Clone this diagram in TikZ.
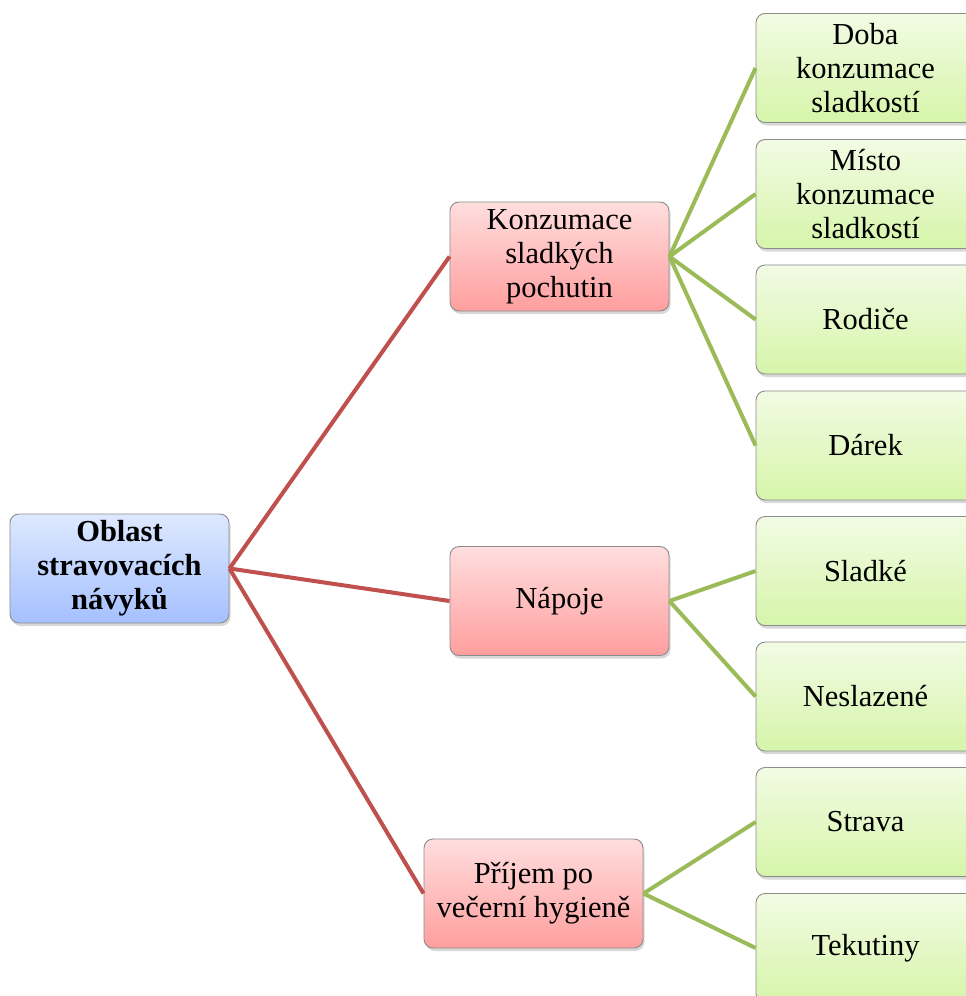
\documentclass[tikz,border=0pt]{standalone}
\usepackage{fontspec}
\setmainfont{Liberation Serif}
\usetikzlibrary{shadows}
\definecolor{redln}{HTML}{C0504D}
\definecolor{grnln}{HTML}{9BBB59}
\begin{document}
\begin{tikzpicture}[x=1pt,y=-1pt,
  box/.style={rectangle, rounded corners=9pt, draw=black!45, line width=0.9pt,
    minimum width=219pt, minimum height=109pt, align=center, inner sep=2pt,
    font=\fontsize{30.5}{34}\selectfont,
    drop shadow={shadow xshift=1.5pt, shadow yshift=-3pt, opacity=0.3}},
  rootbox/.style={box, top color={rgb,255:red,222;green,233;blue,255}, bottom color={rgb,255:red,165;green,192;blue,255}},
  pinkbox/.style={box, top color={rgb,255:red,255;green,222;blue,222}, bottom color={rgb,255:red,255;green,158;blue,158}},
  greenbox/.style={box, top color={rgb,255:red,242;green,251;blue,228}, bottom color={rgb,255:red,214;green,245;blue,170}},
  rededge/.style={draw=redln, line width=4pt},
  grnedge/.style={draw=grnln, line width=4pt}
]
\fill[white] (0,0) rectangle (966,996);
\clip (0,0) rectangle (966,996);

\node[rootbox, font=\fontsize{30.5}{34}\selectfont\bfseries] (root) at (119.5,568.5) {Oblast\\stravovacích\\návyků};

\node[pinkbox] (k) at (559.5,256.5) {Konzumace\\sladkých\\pochutin};
\node[pinkbox] (n) at (559.5,601) {Nápoje};
\node[pinkbox] (p) at (533.5,893.5) {Příjem po\\večerní hygieně};

\node[greenbox] (g1) at (865.5,68) {Doba\\konzumace\\sladkostí};
\node[greenbox] (g2) at (865.5,194) {Místo\\konzumace\\sladkostí};
\node[greenbox] (g3) at (865.5,319.5) {Rodiče};
\node[greenbox] (g4) at (865.5,445.5) {Dárek};
\node[greenbox] (g5) at (865.5,571) {Sladké};
\node[greenbox] (g6) at (865.5,696.5) {Neslazené};
\node[greenbox] (g7) at (865.5,822) {Strava};
\node[greenbox] (g8) at (865.5,948) {Tekutiny};

\path[rededge] (root.east) -- (k.west);
\path[rededge] (root.east) -- (n.west);
\path[rededge] (root.east) -- (p.west);

\foreach \g in {g1,g2,g3,g4} \path[grnedge] (k.east) -- (\g.west);
\foreach \g in {g5,g6} \path[grnedge] (n.east) -- (\g.west);
\foreach \g in {g7,g8} \path[grnedge] (p.east) -- (\g.west);
\end{tikzpicture}
\end{document}
